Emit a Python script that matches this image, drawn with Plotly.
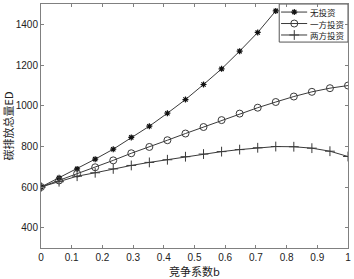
import plotly.graph_objects as go

b = [i / 17 for i in range(18)]
none_inv = [600, 645, 689, 737, 786, 844, 899, 963, 1030, 1104, 1181, 1268, 1360, 1466]
one_inv = [600, 632, 666, 697, 731, 766, 797, 830, 863, 895, 929, 961, 990, 1018, 1045, 1068, 1086, 1099]
two_inv = [600, 626, 653, 670, 689, 706, 721, 734, 749, 762, 774, 784, 793, 799, 798, 791, 776, 750]
names = ["无投资", "一方投资", "两方投资"]
xticks = [0, 0.1, 0.2, 0.3, 0.4, 0.5, 0.6, 0.7, 0.8, 0.9, 1]
xticktext = ["0", "0.1", "0.2", "0.3", "0.4", "0.5", "0.6", "0.7", "0.8", "0.9", "1"]
yticks = [400, 600, 800, 1000, 1200, 1400]

line_color = "#3a3a3a"
styles = [
    dict(symbol="asterisk-open", size=5, color="#111", line=dict(width=1.2, color="#111")),
    dict(symbol="circle-open", size=7, color=line_color, line=dict(width=1, color=line_color)),
    dict(symbol="cross-thin-open", size=7, color=line_color, line=dict(width=1, color=line_color)),
]
series = [(b[:len(none_inv)], none_inv), (b, one_inv), (b, two_inv)]

fig = go.Figure()
for (xs, ys), nm, st in zip(series, names, styles):
    fig.add_trace(go.Scatter(x=xs, y=ys, name=nm, mode="lines+markers",
                             line=dict(color=line_color, width=1), marker=st, showlegend=False))

# custom compact legend (box, sample lines, markers, labels)
lx0, lx1, ly0, ly1 = 0.776, 1.0, 0.844, 1.0
rows = [0.967, 0.920, 0.873]
fig.add_shape(type="rect", xref="paper", yref="paper", x0=lx0, x1=lx1, y0=ly0, y1=ly1,
              line=dict(color="#555", width=1), fillcolor="white", layer="below")
for ry, nm, st in zip(rows, names, styles):
    fig.add_trace(go.Scatter(x=[0.782, 0.825, 0.867], y=[ry, ry, ry], xaxis="x2", yaxis="y2",
                             mode="lines+markers", line=dict(color=line_color, width=1),
                             marker=st, selectedpoints=[1],
                             unselected=dict(marker=dict(opacity=0)),
                             showlegend=False, cliponaxis=False, hoverinfo="skip"))
    fig.add_annotation(x=0.874, y=ry, xref="paper", yref="paper", text=nm, showarrow=False,
                       xanchor="left", yanchor="middle", borderpad=0,
                       font=dict(family="Noto Sans CJK SC", size=8.5, color="#222"))

axis_common = dict(showline=True, linecolor="#808080", linewidth=1, mirror="ticks", ticks="inside",
                   ticklen=3, tickcolor="#808080", showgrid=False, zeroline=False,
                   tickfont=dict(family="Liberation Sans, Arial", size=10, color="#222"))
fig.update_xaxes(range=[0, 1], tickvals=xticks, ticktext=xticktext,
                 title=dict(text="竞争系数b", font=dict(family="Noto Sans CJK SC", size=11, color="#222"), standoff=2),
                 **axis_common)
fig.update_yaxes(range=[300, 1500], tickvals=yticks,
                 title=dict(text="碳排放总量ED", font=dict(family="Noto Sans CJK SC", size=11, color="#222"), standoff=3),
                 **axis_common)
fig.update_layout(width=354, height=279, margin=dict(l=41, r=4, t=3, b=31),
                  plot_bgcolor="white", paper_bgcolor="white", showlegend=False,
                  xaxis2=dict(overlaying="x", range=[0, 1], visible=False),
                  yaxis2=dict(overlaying="y", range=[0, 1], visible=False))
fig.write_html("out.html", config={"displayModeBar": False},
               post_script="document.body.style.margin='0';document.body.style.overflow='hidden';")
